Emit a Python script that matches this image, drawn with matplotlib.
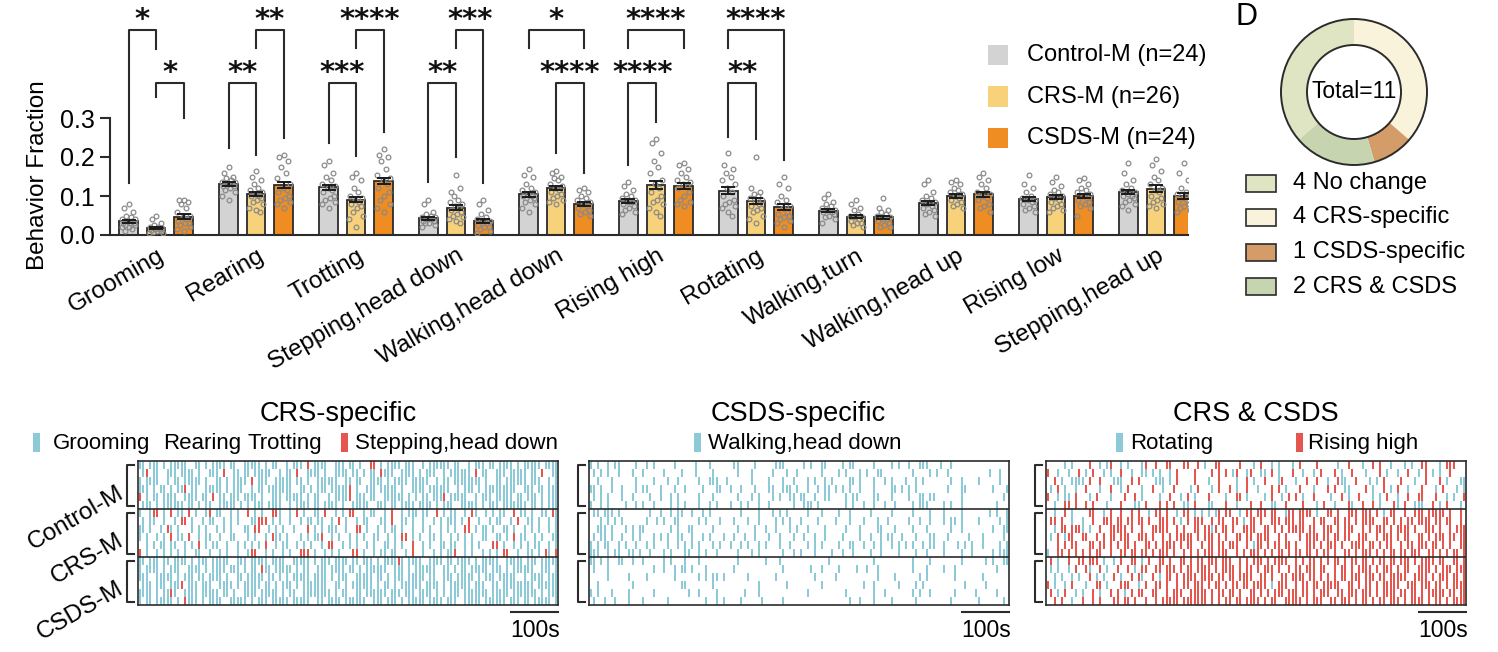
import numpy as np
import matplotlib
matplotlib.use("Agg")
import matplotlib.pyplot as plt
from matplotlib.patches import Rectangle, Circle
from matplotlib.transforms import blended_transform_factory, ScaledTranslation

plt.rcParams['font.family'] = ['Liberation Sans', 'DejaVu Sans']

W, H = 1498, 652

# ---------------- bar chart data ----------------
behaviors = ['Grooming', 'Rearing', 'Trotting', 'Stepping,head down', 'Walking,head down',
             'Rising high', 'Rotating', 'Walking,turn', 'Walking,head up', 'Rising low',
             'Stepping,head up']
groups = ['Control-M (n=24)', 'CRS-M (n=26)', 'CSDS-M (n=24)']
bar_colors = ['#d3d3d3', '#f7d27b', '#ef8c22']

mean_ctrl = [0.035, 0.130, 0.122, 0.043, 0.104, 0.088, 0.114, 0.062, 0.082, 0.092, 0.110]
mean_crs = [0.018, 0.105, 0.091, 0.070, 0.120, 0.128, 0.087, 0.047, 0.100, 0.097, 0.119]
mean_csds = [0.047, 0.128, 0.138, 0.037, 0.080, 0.126, 0.071, 0.045, 0.104, 0.100, 0.100]
sem_ctrl = [0.004, 0.005, 0.007, 0.004, 0.006, 0.005, 0.008, 0.004, 0.005, 0.005, 0.006]
sem_crs = [0.003, 0.005, 0.007, 0.006, 0.005, 0.010, 0.007, 0.004, 0.005, 0.005, 0.008]
sem_csds = [0.006, 0.008, 0.008, 0.005, 0.005, 0.007, 0.008, 0.004, 0.007, 0.006, 0.007]

pts_ctrl = [
    [.08, .07, .06, .05, .045, .04, .04, .035, .035, .03, .03, .03, .025, .025, .02, .02, .015, .01],
    [.175, .16, .15, .145, .14, .135, .135, .13, .13, .125, .125, .12, .115, .11, .1, .09],
    [.19, .18, .16, .15, .14, .13, .125, .12, .115, .11, .1, .095, .09, .085, .08, .07],
    [.09, .08, .06, .055, .05, .045, .045, .04, .04, .035, .035, .03, .03, .025, .02],
    [.17, .155, .15, .13, .12, .115, .11, .105, .1, .1, .095, .09, .085, .08, .07, .06],
    [.135, .125, .115, .105, .1, .095, .09, .085, .085, .08, .075, .07, .065, .06, .055],
    [.21, .18, .17, .16, .15, .14, .13, .12, .11, .1, .09, .085, .08, .075, .07, .06, .05],
    [.105, .095, .085, .08, .075, .07, .065, .065, .06, .06, .055, .05, .045, .04, .03],
    [.14, .13, .11, .1, .095, .09, .085, .08, .075, .07, .065, .06, .055, .05],
    [.155, .13, .12, .11, .1, .095, .09, .09, .085, .08, .075, .07, .065, .06],
    [.185, .16, .14, .13, .12, .115, .11, .105, .1, .1, .095, .09, .085, .08, .075, .065],
]
pts_crs = [
    [.05, .04, .03, .025, .02, .02, .018, .015, .015, .012, .01, .01, .008, .005, .005],
    [.165, .15, .14, .13, .12, .115, .11, .105, .1, .1, .095, .09, .085, .08, .07, .065, .06],
    [.16, .15, .14, .12, .11, .1, .095, .09, .085, .08, .075, .07, .06, .05, .04, .02],
    [.155, .11, .12, .1, .09, .085, .08, .075, .07, .065, .06, .055, .05, .045, .04, .035, .03],
    [.165, .16, .15, .145, .14, .13, .125, .12, .115, .11, .105, .1, .095, .09, .085, .08],
    [.245, .235, .21, .19, .175, .16, .14, .13, .12, .11, .1, .09, .085, .08, .07, .06, .05],
    [.2, .12, .11, .105, .1, .095, .09, .085, .08, .075, .07, .065, .06, .05, .04, .03],
    [.09, .08, .07, .065, .055, .05, .045, .045, .04, .035, .03, .03, .025, .02],
    [.14, .135, .13, .12, .115, .11, .105, .1, .095, .09, .085, .08, .075, .07],
    [.15, .135, .125, .115, .11, .105, .1, .095, .09, .085, .08, .075, .07, .065, .06],
    [.195, .18, .165, .15, .14, .13, .12, .115, .11, .1, .095, .09, .085, .08, .075, .07],
]
pts_csds = [
    [.09, .09, .085, .08, .07, .06, .05, .045, .04, .035, .03, .03, .025, .02, .015, .01],
    [.205, .2, .19, .175, .16, .145, .13, .12, .115, .11, .1, .095, .09, .085, .08, .07],
    [.22, .205, .2, .19, .17, .155, .145, .14, .13, .12, .11, .1, .09, .08, .07, .06],
    [.09, .08, .065, .055, .045, .04, .035, .03, .03, .025, .02, .02, .015, .01, .005],
    [.12, .115, .11, .1, .095, .09, .085, .08, .075, .07, .065, .06, .055, .05],
    [.185, .18, .17, .16, .15, .14, .135, .13, .125, .12, .11, .1, .09, .085, .08, .075],
    [.15, .13, .12, .1, .09, .085, .075, .07, .06, .055, .05, .045, .04, .035, .03, .02],
    [.095, .07, .065, .06, .055, .05, .045, .04, .04, .035, .03, .025, .02, .02],
    [.16, .15, .14, .13, .12, .11, .105, .1, .095, .09, .08, .075, .07, .06],
    [.145, .14, .13, .12, .115, .11, .105, .1, .095, .09, .085, .08, .075, .07, .05],
    [.185, .16, .14, .12, .11, .105, .1, .095, .09, .085, .08, .075, .07, .065, .06],
]

# (behavior, bar a, bar b, level, stars, left leg end, right leg end)
brackets = [
    (0, 0, 1, 'hi', '*', 0.133, 0.477), (0, 1, 2, 'lo', '*', 0.354, 0.300),
    (1, 0, 1, 'lo', '**', 0.223, 0.205), (1, 1, 2, 'hi', '**', 0.480, 0.249),
    (2, 0, 1, 'lo', '***', 0.236, 0.203), (2, 1, 2, 'hi', '****', 0.480, 0.264),
    (3, 0, 1, 'lo', '**', 0.136, 0.200), (3, 1, 2, 'hi', '***', 0.480, 0.133),
    (4, 0, 2, 'hi', '*', 0.480, 0.480), (4, 1, 2, 'lo', '****', 0.210, 0.160),
    (5, 0, 2, 'hi', '****', 0.480, 0.480), (5, 0, 1, 'lo', '****', 0.180, 0.290),
    (6, 0, 2, 'hi', '****', 0.480, 0.192), (6, 0, 1, 'lo', '**', 0.251, 0.246),
]

# ---------------- donut data ----------------
donut_labels = ['No change', 'CRS-specific', 'CSDS-specific', 'CRS & CSDS']
donut_counts = [4, 4, 1, 2]
donut_colors = ['#dfe5c3', '#faf3dc', '#d49c68', '#c6d4af']

# ---------------- raster data (b = blue behaviour, r = red behaviour) ----------------
DURATION = 900
raster_groups = ['Control-M', 'CRS-M', 'CSDS-M']

crs_spec_ctrl = [
    "bb.bbb.b.b bbbb..bb.b .bbbb.bb.. bbbbb.b.bb ..b.bbb.r. bbbb..bbb. bb.b..rr.b .bbbb.bbb. .b.bbbbbb. bb..b.bbb. bb.bbbb.b. bbbbb.bbbb",
    ".br.bb..bb b.bbbb.b.. bbb.r..bb. bb.bbbbb.. b.bb.r..bb bb.b..bbbb .bb.b.bb.r bbb..bbbb. b.bbb..b.b bbbbb.r.bb ..bbb.bbbb b.bb.r..bb",
    "b.bbbb..b. bb.bbbbb.b ..bb.b.bbb b.r.bbb..b bbbb.bb.b. .bbbbbb..b b.bb..bbbb .b.bbbb.bb bbb..b.bb. bbbbbbbb.b ..bb.bbbbb b.bbb..b.b",
    "bbb.b.bb.b .bbr.bb..b bbbb.b.bbb ..b.bb.bbb bbbb..bb.b .bbb.bbbbb r.b..bbb.b bbbb.b..bb bb.bbbbbb. .b.bbb.b.b bbbbbbbb.. bbb.bb.bbb",
    "r.b.bb.bbb b..bbbb.bb .r.bb.bbb. bbbb.b..bb b.bbbbb.b. bb..b.bbbb r.bbb.bb.. bbbbbb.b.b .bb.bbbr.b bbbb..b.bb b.bbbbb.bb .bbb.b.bbb",
    ".bbb.b.bbb bbb.bb.b.b b..bbbbb.b .b.bbb.bbb b..b.bbbb. bb.bbbb.b. .bbbbb..bb b.bb.bbbb. bbbb.b.bbb ..bbbbb.b. bbb.bbbbbb b.bb.b.bbb",
]
crs_spec_crs = [
    "b..brr.b.r .bb.r.b..b r.bb..b.b. .r.b.b..rr b..b.r.b.. bb.r..b.b. rr..b.bb.. b.r..b.bbb .bb..r.b.b b..b.rb..b .b.bb..r.b b.b..bb.rb",
    ".b.bb..b.. b.rr.b..b. bb..b.b.b. ..bbrrr.b. b..b..b.bb .bb..b.r.b ..b.bb...b b.r..bb.b. .b..b.b.bb b.b.r..b.. b.bb..b.r. .bb.b..b.b",
    "bb.b..b.rb .b...b.b.b ..b.b.b... bb.rr..b.b .b..b...r. b.b.bbb..b ..rr.b..b. b.bb.b..b. .b.b..b.b. b..rr.b.bb .b..bb.b.. b.b.b..b.b",
    "b.b..b.b.r .bb.r..b.b b..b..bb.. .b.b..b.rb b.b...b.b. bbr..b.b.. b.b.b..bb. .b.b.rr.b. b..bb.b..b .b.b.b..bb ..bb.b.r.b b..b.b..bb",
    "..b.b.bb.b b..b.b.r.b .bb..b..b. b.b.b.r..b .bb..b.b.b ..b.rr..b. b.b..b.b.. bb.b.b..r. .b.b..bb.b b..b.b.b.. .rr.b..b.b .b.bb..b.b",
    "r.b..b.b.b .b.b..bb.. b..b.b..b. .brr..b.b. .b.b..rrr. b..b.b.b.. .rr.b..b.b b.bb..b.r. .b..b.b.bb r..b.b..b. b.b.rr..b. .bb.b.rb.r",
]
crs_spec_csds = [
    "bb.bbb.bb. bbbb.b.bbb .bbbbb..bb b.bbbbb.bb bb..bbbbb. b.bbb.bbbb .bb.bbb.b. bbbbrb.bbb b..bbbb.bb .bbbb.b.bb bbb..bbbbb .bbb.bbbbb",
    "b.bbbb.b.b bb..bbbb.b .bbbb.bbb. b.bb.rbb.b bbbb.b.bb. .bbb.bbbb. bb.b.bbbbb b..bbb.b.b bbbbb..bb. b.bb.bbbbb .bbb.b.bbb bbb..bbb.b",
    "bbb..bbbbb .b.bbb.bb. bbbb.b..bb .bbbbb.bb. b.b.bbbbb. bbbb.b.bbb ..bbbbb.bb .b.bbb.bbb bb.bb..bbb .bbbbb.b.b bb.bbbbb.. b.bbbb.bbb",
    ".bbb.bbb.b bbr.bbb.bb b..bbbb.b. bbbbb.bb.b .bbb.b.bbb bbbb..bb.b .bbbbbb.b. bb.b.bbbbb b.bbbb.b.b bbbbb.bbb. .bb.bbbbbb bbb.bbbbbb",
    "bbbb.b.bbr b..bbbb.bb bbb.bb.b.. bbbb.bbbbb .b.bb..bbb bbbbb.b.bb ..bb.bbbbb b.bbb.bbb. bbbb.b.b.b bb.bbbbbbb .bbbbb.bbb bbbb.b.bbb",
    "b.bb.bbbbb .b.rbbb.b. bbbb..bbbb b.b.bbb.bb bbb.bbbbb. .bb.bbbb.b bbbbb..bbb .bbb.b.bbb bb.bbbb.bb b..bbbbb.b bbbbb.bbb. bb.bbbbb.b",
]

csds_spec_ctrl = [
    "b.b..b.bb. ...b..b.b. ....b..... b...b..... .bb....b.. ...bbb.... .b.b..bb.. ..b.bb.... .b....b.b. .b..bbb... b..b...... ..........",
    ".b.b.b..b. ..b..b.... .b....b... b....b.... ..b...b... ..b...b..b ......b... .b.b...b.b ..bb...... ..b....b.b ..b....... ....b..b..",
    "..b...b... ...b....b. ..b..b.... .b..bbb..b ......b... .b...b..b. ..b.b..b.b ....bb.b.. .b..b.b... b..b.b.... ...b..b... .b.....b..",
    "bb.b..b..b ...b.bb... b...b..b.. ..b...bb.. b..b...b.. .bb..bbb.b ..b..b.bb. b.b.b..b.. .b....bb.b .b.b...... ..b...bb.. .....b...b",
    ".b.b.b...b ..b....b.. b..b.b.... .b...b.... ..b...b.b. ..b.b..bb. bb..b..bb. ...b.bb... .bb...b... .b..bb.bb. ......b... ........b.",
    "b..b.b.... b..b.b..b. ...b.b.b.. .b..b.b... b..b.b..b. .b......b. .bbb.b.... ...b.b..b. .b..b..b.. ..b.bbb... .b.b..b... ......b...",
]
csds_spec_crs = [
    ".bb.bbb.b. .......b.. b..b.bb..b ..b.b..... ...b....b. ..b.b.b... ..b...b... .b..b..... b.....b... ..b....b.. .b....b... ....b.b..b",
    "...b.b.b.b ......b..b .b..bb.... .b.b...b.. .b...b..b. ...b.b.b.. b....b.... b...b...b. ..b..b.... .b..b..b.. .b.bb.b... .b.....b.b",
    "..bbb.b... b.b.bb.... ...b.b..bb .....b.... ..b....b.. b..b...b.b ..b....b.. ...b...b.. ..bb...b.. ..b...b... ...b..b... .....b..bb",
    ".b.bb.b..b ..b.b...b. b.b..bb..b ..b.b...b. .b..b..b.. .b..b...b. .b..b..b.. ..b....b.. b..b.bb..b ...b...bb. ..b.....b. ..b.....b.",
    "b.b.bb..b. b..b..b.b. ..b..b.b.b .b...b.b.. b..b.b..b. b...b..b.. ..b.b.b... .b..bb..b. .b.b..b.b. b.b..b.bb. .b...b.b.b ..b....b.b",
    "bbb..b.bb. .bb.b..b.. .b.b...bb. .b.b..b... ..b...b.b. .....b..b. b...b....b ..b..b.... b..b....b. ...b..b... .b....b..b .....b.bbb",
]
csds_spec_csds = [
    "bb.b.b..bb ..b..b.... .b.b...b.. .b........ ..b....... b...b..... ........b. .......... .b........ ..b....b.. ......b... ...b.b..bb",
    ".b...b.... ........b. .b..b.bb.b ...b...... .b........ .....b.... ...b..b... .b....b..b ..b....... ..b...b... .b..b..... ......b...",
    ".....b.... .b....b... ....b..... .b.b.bb.b. .....b.... ...b...... ....b..... b......... ..b....b.. ....b.b... ....b..... ..b.......",
    "..b....... ..b....... ......bb.. .....b.... ........b. ......b... ......b... ........b. .b......b. ...b.b.... .......b.. ...b......",
    "b.b...b... .b......b. ........b. .b....b... ....b...b. .......... ..b....... ...b...... .b..b..... ..b.b..b.. ....b..... b.....b...",
    ".b..b..b.. .b...b.... ..b....... ...b..b.b. ...b.....b .....b.... .......... ....b..b.. .b....b... ...b...... ...b...... .b......b.",
]

both_ctrl = [
    ".....b.b.. ..r..b.br. .b.b...br. .r..rr...r r..r.b..rr .....r...b .r..b.b... b.r....r.. ...b..r... b..r.r..b. ..b.b..rr. ..b.rrr...",
    "r..b..b..r .b.r..b.b. .r..b..bb. b.b..b.r.. ..r....r.r .r.br..br. .bb.r.b... r..b..b.r. ..r.b..r.. .b...r.b.. b..r..b.r. b.b..r....",
    "..r.b..bbb b.r..r...b bb..r.r... .bbb.b.r.. ..r...b..r ....b..r.b ..r...br.. .b..r..r.. b..rbb..r. ..b.b.r... .r...b..r. ..r.b...bb",
    ".b.r.b..b. .r...b..r. .b.r...b.. r..b..r... .b.r...b.r ..r.b..r.. b...r.r.b. ..r...b... r.r..bb... .r.b..r.b. r..b...r.. .b.r...b.b",
    "r..b.bb.r. ..b.r...b. ..r..r.b.. ..b..r..b. r.b...r... .b..rr.b.. ..b.r..b.r .r.b..r... .b..r.b..r ...b.b.r.. b..r..rr.. .r..b.b..r",
    "..b..rr.r. .r.r...b.. .r...bb.r. ..r.r.r..b b.r...bb.. .r..b...r. .r..bb..r. ...r...b.r ..b...rb.. r..r.b...r b.r..bbb.. r.b.r...b.",
]
both_crs = [
    "..b..r.b.. ..rr..b.r. .r..r.r..b .rr.r..b.r r.b.b.b.br .rr..b.rr. rrr.rr..br r.rrrr.b.. rr.r..rrr. rrr.r.b.rr ..r..rrr.r rrrr.r..r.",
    ".rr.r..b.. b..r..rrr. rr.rr.rr.r ..rrr.r.b. r.rrr..r.r r..rr.b.rr .r..rrr.rr r.rr..r.rr ..rr.rr.r. rrrr..rr.r .r.rr.rrrr .rr.rr..r.",
    "..b.rr.rrr b.b..r..rr rrr.r..r.. rrrrr..r.r ..rr.rrbr. rr.r..rrrr ..rr.r.r.r rrrr.rr..r rr.r.rrr.. r.r.rrr.r. rrrr.r..rr r.r..r.rrr",
    ".b.r.brr.. rr..r.r.rr .rrr..rrr. r..r.r.rrr rr.r.rrr.r .r..rr.rr. rrrr..r.r. ..r.rrrr.r r.rr.rr..r rr..r.rrr. r.rr..rr.r .rrr.rr.rr",
    "...r.r.rr. ..rr.rr.r. r.rr.r..rr .r.rrrr.r. rr..r.rr.r r.rrr..r.b rr.r.rr.rr .r..rrr.r. rrr.r..rrr r.rr.r.rr. .r.rr.rrr. rr.r.r..rr",
    "b..rr.r.r. r.r.rr..r. .rr.rr.rr. r.rrr.r..r .r.r.rrr.r rr..r.r.rr r.r.r.rr.r .rr.rr.r.r r.r..rr.r. rrr.r.r.rr .rr.rrr..r r.r.r.rr.r",
]
both_csds = [
    ".r.b..r..r r.rrr.b..b .r..rr.b.r ..rr.r..rr .r.rr.rrr. rrr..r.r.r rr.r.rrrr. .r.r.rr.r. r.rr.r.rr. rr.r.rr.rr .rrr.r.rrr r.rr..rr.r",
    ".b.b..b.r. .rb..r.b.. r..r.b.rr. .rr.rrr.r. rr.rrrr.r. rrrr.r.rr. r.rrr.r..r .rr.rrr.rr ..r.rr.r.r rrr.r.rrr. r.rr..rrrr .r.rrr.rrr",
    "..b.b..b.b ..r.b.b..r .b..r.rb.. r.b.rr.r.r rrr.rrrr.r r.rr.rrrr. .rr.r..rr. rrrr.rr.r. r.r.rr.rrr .rrr.rr.rr rrr..rrrr. r.rrr.rr.r",
    "r.b..b.r.. .b..rr.b.. .rrr..b.r. .rr.r..r.r r.rrr.r.rr .r.rr.rr.r rrr.b.rrr. .r.rr.rr.r rrrr..rr.r .rr.r.rrrr r..rrr.rrr .rr.r.rrrr",
    ".r.b.r..b. b..r.b..r. r.b.r.rr.. rr..r.rrr. .rrrrr.r.r r.rr.r..rr .r.r.rrr.r rr.rr.r.rr r..rr.rrr. rrr.r.rrrr .rr.rr.r.r rrrr.rr.rr",
    "..r.r..b.. r..r.r...r r.rr.r..r. .r.rrrrr.r rrrrrr.r.r .rr.rr.rrr r.r.rr..rr rrr.r.rrr. .rr.rrr.r. rr.r.rr.rr r.r.rrrr.r .rr.r.rrrr",
]

BLUE, RED = '#8ccad7', '#e4564e'
EDGE = '#2b2b2b'


def fx(x):
    return x / W


def fy(y):
    return 1 - y / H


fig = plt.figure(figsize=(W / 100, H / 100), dpi=100)

# ================= bar chart =================
ax = fig.add_axes([fx(110), fy(235), 1078 / W, 234 / H])
offsets = [-0.275, 0.0, 0.275]
jitter = [0.0, -0.045, 0.045, -0.022, 0.022, -0.062, 0.062, -0.01, 0.033,
          -0.052, 0.052, 0.01, -0.033, 0.068, -0.068, 0.0, 0.038, -0.038]
series = [(mean_ctrl, sem_ctrl, pts_ctrl), (mean_crs, sem_crs, pts_crs), (mean_csds, sem_csds, pts_csds)]
x = np.arange(len(behaviors))
for k, (means, sems, pts) in enumerate(series):
    xs = x + offsets[k]
    ax.bar(xs, means, width=0.185, color=bar_colors[k], edgecolor=EDGE, linewidth=1.3, zorder=2)
    for i, vals in enumerate(pts):
        xj = xs[i] + np.array([jitter[j % len(jitter)] for j in range(len(vals))])
        ax.plot(xj, vals, 'o', ms=3.4, mfc='none', mec='#8a8a8a', mew=0.9, zorder=3)
    ax.errorbar(xs, means, yerr=sems, fmt='none', ecolor='#1a1a1a', elinewidth=1.4,
                capsize=5, capthick=1.4, zorder=4)

levels = {'hi': 0.526, 'lo': 0.39}
for g, a, b, lev, stars, lb, rb in brackets:
    xa, xb, yb = g + offsets[a], g + offsets[b], levels[lev]
    ax.plot([xa, xa, xb, xb], [lb, yb, yb, rb], color=EDGE, lw=1.5, clip_on=False, zorder=5)
    ax.text((xa + xb) / 2, yb + 0.006, stars, ha='center', va='baseline', fontsize=21,
            fontweight='bold', family='DejaVu Sans', color='#111')

ax.set_xlim(-0.46, 10.32)
ax.set_ylim(0, 0.6)
ax.set_yticks([0, 0.1, 0.2, 0.3])
ax.set_yticklabels(['0.0', '0.1', '0.2', '0.3'])
ax.spines['left'].set_bounds(0, 0.3)
for s in ['top', 'right']:
    ax.spines[s].set_visible(False)
for s in ['left', 'bottom']:
    ax.spines[s].set_linewidth(1.5)
    ax.spines[s].set_color(EDGE)
ax.tick_params(axis='y', length=7, width=1.5, labelsize=18, pad=4, color=EDGE)
ax.set_xticks(x)
ax.set_xticklabels(behaviors, rotation=30, ha='right', va='center', rotation_mode='anchor')
ax.tick_params(axis='x', length=0, labelsize=17.5, pad=14)
shift = ScaledTranslation(6 / 100, 0, fig.dpi_scale_trans)
for lab in ax.get_xticklabels():
    lab.set_transform(lab.get_transform() + shift)
fig.text(fx(38), fy(175), 'Behavior Fraction', rotation=90, ha='center', va='center', fontsize=17.5)

for i, lab in enumerate(groups):
    yc = 55 + 41.5 * i
    fig.patches.append(Rectangle((fx(988), fy(yc + 10)), 20 / W, 20 / H, transform=fig.transFigure,
                                 facecolor=bar_colors[i], edgecolor='none'))
    fig.text(fx(1027), fy(yc), lab, va='center', ha='left', fontsize=17)

# ================= donut =================
fig.text(fx(1236), fy(17), 'D', fontsize=22, ha='left', va='center')
dax = fig.add_axes([fx(1354 - 75), fy(92 + 75), 150 / W, 150 / H])
total = sum(donut_counts)
dax.pie(donut_counts, colors=donut_colors, startangle=90 + 360 * donut_counts[0] / total,
        counterclock=False, radius=1, wedgeprops=dict(width=0.356, edgecolor='none'))
dax.add_patch(Circle((0, 0), 1.0, fill=False, ec=EDGE, lw=1.4))
dax.add_patch(Circle((0, 0), 0.644, fill=False, ec=EDGE, lw=1.4))
dax.set_xlim(-75 / 73, 75 / 73)
dax.set_ylim(-75 / 73, 75 / 73)
dax.text(0, 0, f'Total={total}', ha='center', va='center', fontsize=16.5)

for i, (lab, n) in enumerate(zip(donut_labels, donut_counts)):
    yc = 183 + 34.5 * i
    fig.patches.append(Rectangle((fx(1246), fy(yc + 8.5)), 30 / W, 17 / H, transform=fig.transFigure,
                                 facecolor=donut_colors[i], edgecolor=EDGE, lw=1.2))
    fig.text(fx(1293), fy(yc), f'{n} {lab}', va='center', ha='left', fontsize=17)

# ================= rasters =================
panels = [
    dict(left=138, title='CRS-specific', tcx=338, blocks=[crs_spec_ctrl, crs_spec_crs, crs_spec_csds],
         legend=[(33, BLUE), (53, 'Grooming'), (163, 'Rearing'), (247, 'Trotting'),
                 (341, RED), (355, 'Stepping,head down')]),
    dict(left=589, title='CSDS-specific', tcx=798, blocks=[csds_spec_ctrl, csds_spec_crs, csds_spec_csds],
         legend=[(694, BLUE), (708, 'Walking,head down')]),
    dict(left=1046, title='CRS & CSDS', tcx=1256, blocks=[both_ctrl, both_crs, both_csds],
         legend=[(1116, BLUE), (1130, 'Rotating'), (1296, RED), (1308, 'Rising high')]),
]
top, bot = 461, 605
for pi, p in enumerate(panels):
    rax = fig.add_axes([fx(p['left']), fy(bot), 420 / W, (bot - top) / H])
    nrows = len(p['blocks'][0])
    for bi, rows in enumerate(p['blocks']):
        for ri, row in enumerate(rows):
            s = row.replace(' ', '')
            bw = DURATION / len(s)
            y0 = bi * nrows + ri
            for code, col in (('b', BLUE), ('r', RED)):
                spans = [(i * bw + 0.15 * bw, 0.7 * bw) for i, c in enumerate(s) if c == code]
                if spans:
                    rax.broken_barh(spans, (y0 + 0.05, 0.9), facecolors=col, edgecolor='none')
        if bi > 0:
            rax.axhline(bi * nrows, color=EDGE, lw=1.2)
        btr = blended_transform_factory(rax.transAxes, rax.transData)
        ya, yb = bi * nrows + 0.5, (bi + 1) * nrows - 0.4
        rax.plot([-0.01, -0.026, -0.026, -0.01], [ya, ya, yb, yb], color=EDGE, lw=1.5,
                 transform=btr, clip_on=False)
        if pi == 0:
            rax.text(-0.038, bi * nrows + nrows / 2 + 0.8, raster_groups[bi], transform=btr,
                     rotation=30, ha='right', va='center', rotation_mode='anchor', fontsize=17.5)
    rax.set_xlim(0, DURATION)
    rax.set_ylim(len(p['blocks']) * nrows, 0)
    rax.set_xticks([])
    rax.set_yticks([])
    for s in rax.spines.values():
        s.set_linewidth(1.2)
        s.set_color(EDGE)
    str_ = blended_transform_factory(rax.transData, rax.transAxes)
    rax.plot([DURATION - 100, DURATION], [-0.05, -0.05], color=EDGE, lw=1.5, transform=str_, clip_on=False)
    rax.text(DURATION - 50, -0.175, '100s', transform=str_, ha='center', va='center', fontsize=16.5)

    fig.text(fx(p['tcx']), fy(414), p['title'], ha='center', va='center', fontsize=19.5)
    for xpos, item in p['legend']:
        if item in (BLUE, RED):
            fig.patches.append(Rectangle((fx(xpos), fy(452)), 7 / W, 19 / H, transform=fig.transFigure,
                                         facecolor=item, edgecolor='none'))
        else:
            fig.text(fx(xpos), fy(443), item, ha='left', va='center', fontsize=16)

fig.savefig('out.png', dpi=100)
